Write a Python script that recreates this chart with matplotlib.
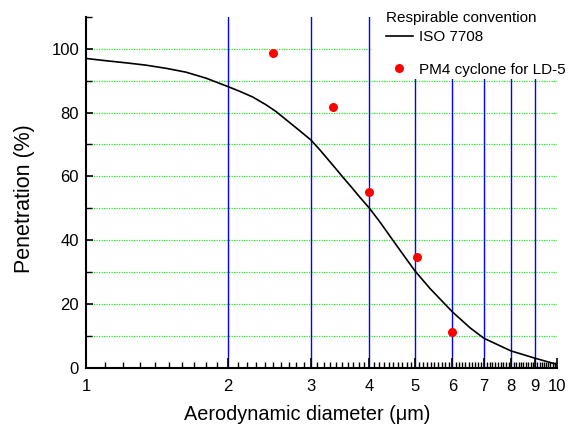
import matplotlib
matplotlib.use("Agg")
import matplotlib.pyplot as plt
from matplotlib.lines import Line2D
from matplotlib.patches import Rectangle
from matplotlib.ticker import FixedLocator, NullFormatter, FixedFormatter

plt.rcParams['font.family'] = ['Liberation Sans', 'DejaVu Sans']

# ISO 7708 respirable convention
curve_d = [1.0, 1.1, 1.22, 1.34, 1.48, 1.63, 1.8, 1.92, 2.0, 2.12, 2.26, 2.41,
           2.53, 2.66, 2.84, 3.0, 3.14, 3.35, 3.52, 3.64, 3.82, 4.0, 4.21, 4.43,
           4.72, 5.0, 5.38, 6.0, 6.54, 7.0, 7.58, 8.0, 9.0, 10.0]
curve_p = [97.0, 96.3, 95.6, 94.9, 93.9, 92.7, 90.8, 89.2, 88.2, 86.7, 84.9, 82.5,
           80.4, 77.8, 74.4, 71.5, 68.3, 63.4, 59.6, 57.1, 53.4, 50.0, 45.7, 41.1,
           35.4, 30.3, 24.8, 17.5, 12.5, 9.2, 6.8, 5.2, 2.9, 1.0]

# PM4 cyclone for LD-5
pm4_d = [2.5, 3.35, 4.0, 5.05, 6.0]
pm4_p = [98.7, 81.8, 55.0, 34.6, 11.0]

x_ticks = [1, 2, 3, 4, 5, 6, 7, 8, 9, 10]
x_ticklabels = ['1', '2', '3', '4', '5', '6', '7', '8', '9', '10']
x_gridlines = [2, 3, 4, 5, 6, 7, 8, 9]
y_ticks = [0, 20, 40, 60, 80, 100]
y_gridlines = [10, 20, 30, 40, 50, 60, 70, 80, 90, 100]

fig = plt.figure(figsize=(5.69, 4.32), dpi=100)
ax = fig.add_axes([0.1511, 0.1493, 0.8273, 0.8113])

ax.set_xscale('log')
ax.set_xlim(1, 10)
ax.set_ylim(0, 110)

for y in y_gridlines:
    ax.axhline(y, color='#22ee22', linestyle=(0, (1, 1)), linewidth=0.9, zorder=1)
for x in x_gridlines:
    ax.axvline(x, color='#0000ff', linewidth=1.0, zorder=1.2)

# white area behind the legend
ax.add_patch(Rectangle((0.607, 0.823), 0.45, 0.3, transform=ax.transAxes,
                       facecolor='white', edgecolor='none', zorder=1.5, clip_on=False))

ax.plot(curve_d, curve_p, color='black', linewidth=1.2, zorder=3)
ax.plot(pm4_d, pm4_p, linestyle='none', marker='o', markersize=6.5,
        color='#ff0000', markeredgewidth=0, zorder=4)

ax.xaxis.set_major_locator(FixedLocator(x_ticks))
ax.xaxis.set_major_formatter(FixedFormatter(x_ticklabels))
minor_x = [i / 10 for i in range(11, 100) if i % 10 != 0]
ax.xaxis.set_minor_locator(FixedLocator(minor_x))
ax.xaxis.set_minor_formatter(NullFormatter())
ax.yaxis.set_major_locator(FixedLocator(y_ticks))
ax.yaxis.set_minor_locator(FixedLocator([10, 30, 50, 70, 90, 110]))

ax.tick_params(axis='both', which='both', direction='in', labelsize=12, colors='black')
ax.tick_params(axis='x', which='major', length=7, width=1.2, pad=8)
ax.tick_params(axis='x', which='minor', length=4, width=1.0)
ax.tick_params(axis='y', which='major', length=5, width=1.2, pad=5)
ax.tick_params(axis='y', which='minor', length=4, width=1.0)

for s in ['top', 'right']:
    ax.spines[s].set_visible(False)
for s in ['left', 'bottom']:
    ax.spines[s].set_linewidth(1.5)
    ax.spines[s].set_zorder(5)

ax.set_xlabel('Aerodynamic diameter (\u03bcm)', fontsize=14.3)
ax.xaxis.set_label_coords(0.4695, -0.106)
ax.set_ylabel('Penetration (%)', fontsize=15.5)
ax.yaxis.set_label_coords(-0.108, 0.481)

ax.text(0.637, 0.997, 'Respirable convention', transform=ax.transAxes,
        fontsize=11, ha='left', va='center', zorder=6)

handles = [Line2D([], [], color='black', linewidth=1.2),
           Line2D([], [], color='#ff0000', marker='o', linestyle='none',
                  markersize=6.5, markeredgewidth=0)]
leg = ax.legend(handles, ['ISO 7708', 'PM4 cyclone for LD-5'], fontsize=11,
                frameon=False, loc='upper left', bbox_to_anchor=(0.637, 0.962),
                borderpad=0, borderaxespad=0, handlelength=1.76,
                handletextpad=0.4, labelspacing=1.2)
leg.set_zorder(6)

fig.savefig('out.png', dpi=100)
